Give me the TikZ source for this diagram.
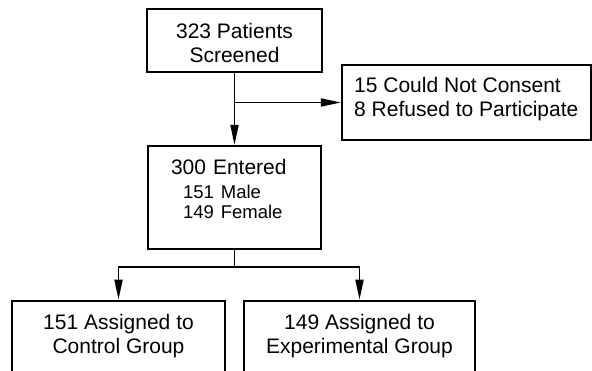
\documentclass[tikz,border=0pt]{standalone}
\usepackage{fontspec}
\setmainfont{Liberation Sans}
\usetikzlibrary{arrows.meta,positioning}

\begin{document}
\begin{tikzpicture}[
  x=1pt, y=1pt,
  box/.style={rectangle, draw=black, line width=1.8pt, inner sep=0pt, align=center,
              font=\fontsize{21}{24}\selectfont},
  arr/.style={-{Triangle[length=20pt, width=8pt]}, draw=black, line width=1.8pt}
]
\path[use as bounding box, clip] (0,0) rectangle (592,370);

\node[box, minimum width=175pt, text height=54pt, text depth=9pt] (screened) at (234.5,329.5) {323 Patients\\Screened};
\node[box, right=18pt of screened, yshift=-62pt, minimum width=249pt, align=left,
      text height=52pt, text depth=23pt] (excluded) {15 Could Not Consent\\8 Refused to Participate};
\node[box, below=72pt of screened, minimum width=173pt, text width=127pt, align=left,
      text height=29pt, text depth=74pt] (entered)
  {300 Entered\\{\fontsize{18.5}{20}\selectfont\hspace*{12pt}151 Male}\\[-4pt]{\fontsize{18.5}{20}\selectfont\hspace*{12pt}149 Female}};
\node[box, below=50pt of entered, xshift=-116pt, minimum width=213pt, text height=53pt, text depth=47pt] (control) {151 Assigned to\\Control Group};
\node[box, below=50pt of entered, xshift=125pt, minimum width=231pt, text height=53pt, text depth=47pt] (experimental) {149 Assigned to\\Experimental Group};

\draw[arr] (screened) -- (entered);
\draw[arr] (screened.south |- excluded.west) -- (excluded.west);
\draw[arr] (entered.south) -- ++(0,-17) -| (control.north);
\draw[arr] (entered.south) -- ++(0,-17) -| (experimental.north);
\end{tikzpicture}
\end{document}
